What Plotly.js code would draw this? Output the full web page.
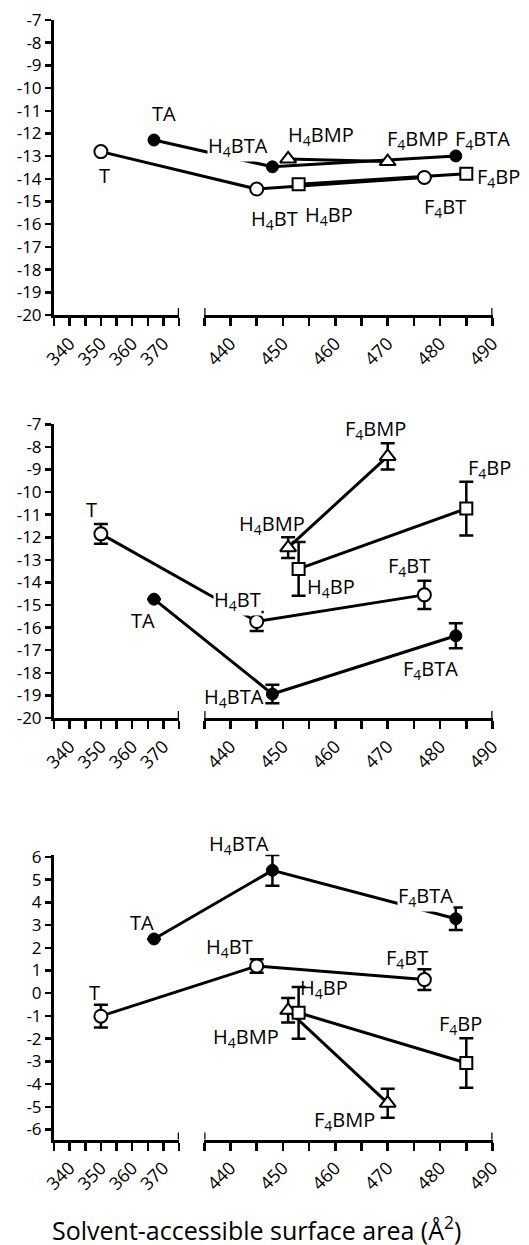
<!DOCTYPE html>
<html><head><meta charset="utf-8">
<script src="https://cdn.plot.ly/plotly-3.0.1.min.js"></script>
<style>html,body{margin:0;padding:0;background:#fff}</style>
</head><body><div id="chart" style="width:529px;height:1245px"></div>
<script>
// ---------------- data ----------------
const sasaT   = [350, 445, 477];
const sasaTA  = [367, 448, 483];
const sasaBP  = [453, 485];
const sasaBMP = [451, 470];
const labelT   = ['T', 'H<sub>4</sub>BT', 'F<sub>4</sub>BT'];
const labelTA  = ['TA', 'H<sub>4</sub>BTA', 'F<sub>4</sub>BTA'];
const labelBP  = ['H<sub>4</sub>BP', 'F<sub>4</sub>BP'];
const labelBMP = ['H<sub>4</sub>BMP', 'F<sub>4</sub>BMP'];

// top panel
const p1T   = [-12.8, -14.45, -13.94];
const p1TA  = [-12.29, -13.47, -12.99];
const p1BP  = [-14.24, -13.77];
const p1BMP = [-13.12, -13.24];
// middle panel
const p2T   = [-11.85, -15.73, -14.55];
const p2TErr   = [0.44, 0.42, 0.63];
const p2TA  = [-14.74, -18.94, -16.36];
const p2TAErr  = [0, 0.41, 0.55];
const p2BP  = [-13.4, -10.73];
const p2BPErr  = [1.19, 1.19];
const p2BMP = [-12.46, -8.42];
const p2BMPErr = [0.46, 0.58];
// bottom panel
const p3T   = [-1.01, 1.2, 0.6];
const p3TErr   = [0.5, 0.3, 0.46];
const p3TA  = [2.39, 5.41, 3.28];
const p3TAErr  = [0, 0.68, 0.5];
const p3BP  = [-0.86, -3.07];
const p3BPErr  = [1.14, 1.09];
const p3BMP = [-0.75, -4.84];
const p3BMPErr = [0.54, 0.64];

const yTicksTop = [-20, -19, -18, -17, -16, -15, -14, -13, -12, -11, -10, -9, -8, -7];
const yTicksBottom = [-6, -5, -4, -3, -2, -1, 0, 1, 2, 3, 4, 5, 6];
const xTitle = 'Solvent-accessible surface area (Å<sup>2</sup>)';

// ---------------- layout geometry ----------------
const W = 529, H = 1245;
const FONT = 'Open Sans, DejaVu Sans, sans-serif';
const L = {r: [335, 375], d: [54 / W, 179 / W]};
const R = {r: [435, 490], d: [204.3 / W, 492.5 / W]};
function mapX(v) {
  const s = v < 400 ? L : R;
  return s.d[0] + (v - s.r[0]) / (s.r[1] - s.r[0]) * (s.d[1] - s.d[0]);
}
// label offsets: [dx, dy (down), white background?]
const panels = [
  {y: 'y',  yr: [-20, -7],    px: [20, 315],      ticks: yTicksTop,
   series: {T: [p1T, null], TA: [p1TA, null], BP: [p1BP, null], BMP: [p1BMP, null]},
   off: {T: [[4, 24], [18, 30], [21, 30]], TA: [[10, -27], [-34, -20, 1], [27, -16]],
         BP: [[30, 31], [32, 4]], BMP: [[33, -23], [30, -22]]}},
  {y: 'y2', yr: [-20, -7],    px: [424.3, 718],   ticks: yTicksTop,
   series: {T: [p2T, p2TErr], TA: [p2TA, p2TAErr], BP: [p2BP, p2BPErr], BMP: [p2BMP, p2BMPErr]},
   off: {T: [[-9, -24], [-19, -21, 1], [-15, -28]], TA: [[-11, 21], [-38, 3], [-25, 34]],
         BP: [[32, 19], [23, -40]], BMP: [[-16, -23], [-12, -27]]}},
  {y: 'y3', yr: [-6.44, 6.1], px: [854.7, 1139.5], ticks: yTicksBottom,
   series: {T: [p3T, p3TErr], TA: [p3TA, p3TAErr], BP: [p3BP, p3BPErr], BMP: [p3BMP, p3BMPErr]},
   off: {T: [[-6, -24], [-27, -18], [-17, -21]], TA: [[-12, -16], [-33, -26], [-30, -22, 1]],
         BP: [[25, -24], [-6, -38]], BMP: [[-42, 27], [-43, 17]]}}
];
const seriesDef = {
  T:   {x: sasaT,   lab: labelT,   marker: {symbol: 'circle', size: 13, color: '#fff', line: {color: '#000', width: 2}}},
  TA:  {x: sasaTA,  lab: labelTA,  marker: {symbol: 'circle', size: 12, color: '#000', line: {color: '#000', width: 1}}},
  BP:  {x: sasaBP,  lab: labelBP,  marker: {symbol: 'square', size: 12, color: '#fff', line: {color: '#000', width: 2}}},
  BMP: {x: sasaBMP, lab: labelBMP, marker: {symbol: 'triangle-up', size: 14, color: '#fff', line: {color: '#000', width: 2}}}
};
const order = ['T', 'TA', 'BMP', 'BP'];

const layout = {
  width: W, height: H, margin: {l: 0, r: 0, t: 0, b: 0},
  paper_bgcolor: '#fff', plot_bgcolor: 'rgba(0,0,0,0)',
  showlegend: false, font: {family: FONT, color: '#000'},
  xaxis7: {domain: [0, 1], range: [0, 1], visible: false, anchor: 'y', fixedrange: true},
  annotations: [], shapes: []
};
const traces = [];
const lineTraces = [], markerTraces = [];

panels.forEach((p, i) => {
  const xl = 'xaxis' + (i === 0 ? '' : (2 * i + 1));
  const xr = 'xaxis' + (2 * i + 2);
  const xlId = 'x' + (i === 0 ? '' : (2 * i + 1));
  const xrId = 'x' + (2 * i + 2);
  const yKey = 'yaxis' + (i === 0 ? '' : (i + 1));
  const dom = [1 - p.px[1] / H, 1 - p.px[0] / H];
  const common = {showline: true, linewidth: 3, linecolor: '#000', ticks: 'outside', ticklen: 8,
    tickwidth: 2.5, tickcolor: '#000', showgrid: false, zeroline: false, tickangle: -45,
    tickfont: {family: FONT, size: 18, color: '#000'}, anchor: p.y, fixedrange: true, tickmode: 'linear', dtick: 10};
  layout[xl] = Object.assign({}, common, {domain: L.d, range: L.r, tick0: 340,
    minor: {dtick: 5, tick0: 335, ticks: 'outside', ticklen: 8, tickwidth: 2.5, tickcolor: '#000'}});
  layout[xr] = Object.assign({}, common, {domain: R.d, range: R.r, tick0: 440,
    minor: {dtick: 5, tick0: 435, ticks: 'outside', ticklen: 8, tickwidth: 2.5, tickcolor: '#000'}});
  layout[yKey] = {domain: dom, range: p.yr, anchor: xlId, showline: true, linewidth: 3, linecolor: '#000',
    ticks: 'outside', ticklen: 6, tickwidth: 2.5, tickcolor: '#000', showgrid: false, zeroline: false,
    tickmode: 'array', tickvals: p.ticks, ticktext: p.ticks.map(v => String(v)),
    tickfont: {family: FONT, size: 17, color: '#000'}, fixedrange: true};
  // dummy traces so that the visible axes are drawn
  traces.push({x: [], y: [], xaxis: xlId, yaxis: p.y, type: 'scatter', hoverinfo: 'skip'});
  traces.push({x: [], y: [], xaxis: xrId, yaxis: p.y, type: 'scatter', hoverinfo: 'skip'});
  // axis break end marks
  [[xlId, L.r[1]], [xrId, R.r[0]], [xrId, R.r[1]]].forEach(([xa, xv]) => {
    layout.shapes.push({type: 'line', xref: xa, yref: p.y, ysizemode: 'pixel', yanchor: p.yr[0],
      x0: xv, x1: xv, y0: -8, y1: 7, line: {color: '#000', width: 2.5}});
  });
  order.forEach(k => {
    const s = seriesDef[k];
    const [vals, errs] = p.series[k];
    const xs = s.x.map(mapX);
    lineTraces.push({type: 'scatter', mode: 'lines', x: xs, y: vals, xaxis: 'x7', yaxis: p.y,
      line: {color: '#000', width: 3}, hoverinfo: 'skip'});
    const mt = {type: 'scatter', mode: 'markers', x: xs, y: vals, xaxis: 'x7', yaxis: p.y,
      marker: s.marker, hoverinfo: 'skip', cliponaxis: false};
    if (errs) mt.error_y = {type: 'data', array: errs, visible: true, thickness: 2.5, width: 7, color: '#000'};
    markerTraces.push(mt);
    vals.forEach((v, j) => {
      const o = p.off[k][j];
      layout.annotations.push({text: s.lab[j], x: xs[j], y: v, xref: 'x7', yref: p.y,
        xshift: o[0], yshift: -o[1], showarrow: false, bgcolor: o[2] ? '#fff' : 'rgba(0,0,0,0)', borderpad: 0,
        font: {family: FONT, size: 20, color: '#000'}});
    });
  });
});
layout.annotations.push({text: xTitle, xref: 'paper', yref: 'paper', x: 256.5 / W, y: 1 - 1228 / H,
  yanchor: 'middle', showarrow: false, font: {family: FONT, size: 25, color: '#000'}});

Plotly.newPlot('chart', traces.concat(lineTraces, markerTraces), layout, {staticPlot: true, displayModeBar: false});
</script></body></html>
